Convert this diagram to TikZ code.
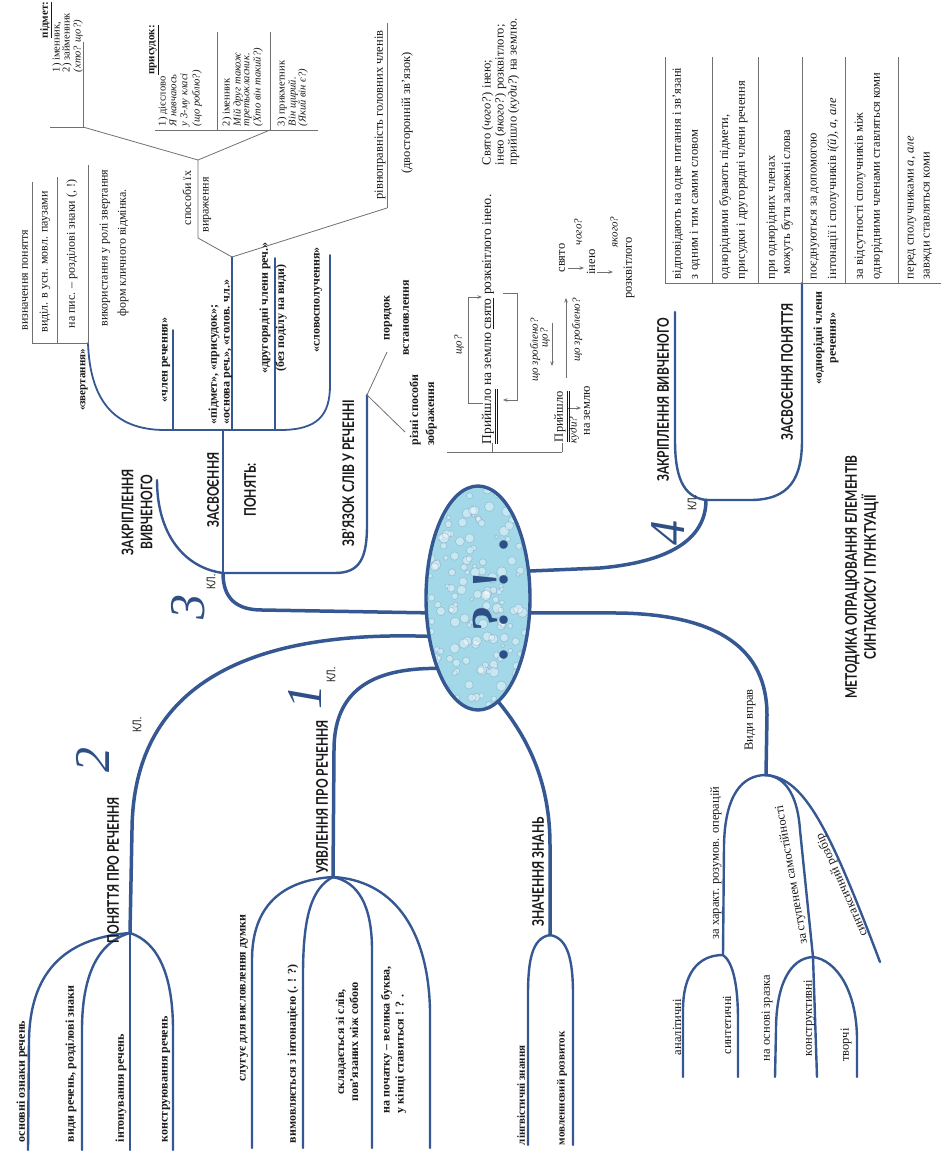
\documentclass[tikz,border=0pt]{standalone}
\usepackage{fontspec}
\setmainfont{Liberation Serif}
\newfontfamily\hdfont[FakeStretch=0.75]{Lato}
\usetikzlibrary{shapes.geometric,arrows.meta}
\definecolor{brc}{HTML}{355892}
\definecolor{thinc}{HTML}{707070}
\definecolor{ovf}{HTML}{A3D8E8}
\definecolor{numc}{HTML}{2E4F86}
\definecolor{txc}{HTML}{1A1A1A}
\tikzset{
  trunk/.style={draw=brc, line width=3.5pt, line cap=round},
  limb/.style={draw=brc, line width=2.4pt, line cap=round},
  twig/.style={draw=brc, line width=1.8pt, line cap=round},
  thinl/.style={draw=thinc, line width=0.8pt},
  tbl/.style={draw=thinc, line width=0.9pt},
  arr/.style={draw=thinc, line width=0.7pt, -{Stealth[length=4.5pt,width=3.5pt]}},
  rt/.style={rotate=90, inner sep=0pt, outer sep=0pt, text=txc},
  hd/.style={rt, font=\hdfont\bfseries\fontsize{16}{19}\selectfont},
  lf/.style={rt, font=\bfseries\fontsize{12}{14}\selectfont},
  lfs/.style={rt, font=\bfseries\fontsize{11}{13}\selectfont},
  tx/.style={rt, font=\fontsize{12.5}{14}\selectfont},
  tm/.style={rt, font=\fontsize{12}{13}\selectfont},
  sm/.style={rt, font=\fontsize{10.5}{12}\selectfont},
  ql/.style={rt, font=\itshape\fontsize{11}{12}\selectfont},
  numeral/.style={inner sep=0pt, outer sep=0pt, text=numc, font=\itshape\fontsize{50}{50}\selectfont},
  kl/.style={rt, font=\hdfont\fontsize{12}{13}\selectfont},
  glyph/.style={rotate=90, inner sep=0pt, anchor=base, text=numc, font=\bfseries\fontsize{52}{52}\selectfont},
}
\begin{document}
\begin{tikzpicture}[x=1pt,y=-1pt]
\fill[white] (0,0) rectangle (941,1151);
\useasboundingbox (0,0) rectangle (941,1151);

% reference shape of the central oval
\node[ellipse, minimum width=104pt, minimum height=224pt, inner sep=0pt] (oval) at (478,598) {};

% ---------------- 3 кл.
\coordinate (j3) at (223,573);
\coordinate (jbar) at (223,430);
\coordinate (zvc) at (88,343);
\draw[trunk] (oval.196) -- (262,610) .. controls (236,610) and (223,598) .. (j3);
\draw[limb] (j3) -- (jbar);
\draw[limb] (j3) .. controls (185,568) and (157,535) .. (157,480);
\draw[limb] (j3) -- (335,573) .. controls (360,573) and (367,558) .. (367,525) -- (367,395) coordinate (jzv);
\draw[twig] (zvc) .. controls (90,398) and (112,430) .. (165,430) -- (280,430) .. controls (318,430) and (330,415) .. (330,385) -- (330,255);
\draw[twig] (173,430) -- (173,330);
\draw[twig] (232,430) -- (232,257) coordinate (jp);
\draw[twig] (275,430) -- (275,258);

% thin grey connectors, upper left
\coordinate (jsp) at (198,160);
\draw[thinl] (jp) -- (198,238) -- (jsp);
\draw[thinl] (jsp) -- (83,127);
\draw[thinl] (jsp) -- (270,130);
\draw[thinl] (jp) -- (387,208);
\draw[thinl] (jzv) -- (387,352);
\draw[thinl] (jzv) -- (405,432);

% boxes upper left
\draw[tbl] (32,182) -- (32,343) -- (88,343) -- (88,165);
\draw[tbl] (57,177) -- (57,343);
\draw[tbl] (50,127) -- (83,127) -- (83,42);
\draw[tbl] (155,130) -- (318,130);
\draw[tbl] (217,32) -- (217,130);
\draw[tbl] (270,32) -- (270,130);
\draw[tbl] (387,23) -- (387,208);

% ---------------- 2 кл.
\draw[trunk] (oval.218) .. controls (240,630) and (133,690) .. (132,830) -- (130,933) coordinate (j2);
\draw[limb] (j2) .. controls (62,938) and (30,975) .. (29,1040) -- (28,1150);
\draw[limb] (j2) .. controls (98,942) and (82,975) .. (82,1030) -- (82,1150);
\draw[limb] (j2) -- (130,1150);
\draw[limb] (j2) .. controls (158,942) and (173,975) .. (173,1030) -- (173,1150);

% ---------------- 1 кл.
\draw[trunk] (oval.240) .. controls (370,668) and (334,692) .. (334,750) -- (333,877) coordinate (j1);
\draw[limb] (j1) .. controls (283,880) and (252,905) .. (252,960) -- (252,1148);
\draw[limb] (j1) .. controls (312,888) and (303,915) .. (303,975) -- (303,1148);
\draw[limb] (j1) .. controls (358,882) and (372,905) .. (372,950) -- (372,1148);
\draw[limb] (j1) .. controls (390,880) and (428,925) .. (430,1010) -- (430,1148);

% ---------------- Значення знань
\draw[trunk] (oval.281) .. controls (530,740) and (550,785) .. (550,845) -- (550,935) coordinate (jz);
\draw[limb] (jz) .. controls (532,938) and (528,960) .. (528,995) -- (528,1145);
\draw[limb] (jz) .. controls (568,938) and (573,960) .. (573,995) -- (573,1145);

% ---------------- Види вправ
\draw[trunk] (oval.344) -- (620,613) .. controls (720,615) and (767,650) .. (767,715) -- (766,775) coordinate (jv);
\draw[limb] (jv) .. controls (742,775) and (725,795) .. (724,845) -- (723,955) coordinate (ja);
\draw[limb] (ja) .. controls (697,955) and (683,975) .. (683,1010) -- (683,1077);
\draw[limb] (ja) .. controls (733,962) and (738,985) .. (738,1020) -- (738,1077);
\draw[limb] (jv) .. controls (788,777) and (798,800) .. (800,830) -- (813,957) coordinate (jb);
\draw[limb] (jb) .. controls (790,958) and (776,985) .. (776,1030) -- (775,1077);
\draw[limb] (jb) -- (817,1077);
\draw[limb] (jb) .. controls (836,960) and (857,990) .. (857,1040) -- (857,1077);
\draw[limb] (jv) .. controls (805,778) and (830,830) .. (880,962);

% ---------------- 4 кл.
\draw[trunk] (oval.28) -- (600,568) .. controls (668,562) and (706,540) .. (706,500) coordinate (j4);
\draw[limb] (j4) .. controls (682,497) and (675,475) .. (675,440) -- (675,312);
\draw[limb] (j4) -- (750,500) .. controls (790,500) and (802,478) .. (802,440) -- (802,283);
\draw[tbl] (665,283) -- (941,283);
\foreach \xx in {665,712,758,802,845,898} \draw[tbl] (\xx,57) -- (\xx,283);

% ---------------- sentence scheme
\draw[arr] (483,403) -- (468,403) -- (468,297) -- (482,297);
\draw[arr] (503,293) -- (517,293) -- (517,400) -- (503,400);
\draw[thinl] (447,452) -- (562,452);
\draw[thinl] (492,452) -- (492,443);
\draw[thinl] (562,452) -- (562,443);
\draw[arr] (552,323) -- (552,366);
\draw[arr] (566,378) -- (566,298);
\draw[arr] (568,268) -- (584,268);
\draw[arr] (597,272) -- (613,272);
\draw[arr] (568,408) -- (581,408);

% ---------------- central oval
\fill[ovf] (oval.center) ellipse [x radius=52, y radius=112];
\begin{scope}
  \clip (oval.center) ellipse [x radius=50, y radius=110];
  \pgfmathsetseed{7}
  \foreach \i in {1,...,170} {
    \pgfmathsetmacro{\bx}{478+50*rand}
    \pgfmathsetmacro{\by}{598+110*rand}
    \pgfmathsetmacro{\bs}{1.8+3.4*rnd}
    \fill[white, opacity=0.4] (\bx,\by) circle [radius=\bs];
    \draw[numc, opacity=0.22, line width=0.6pt] (\bx,\by) circle [radius=\bs];
  }
\end{scope}
\draw[brc, line width=3.4pt] (oval.center) ellipse [x radius=52, y radius=112];
\node[glyph] (g1) at (507,655) {.};
\node[glyph] (g2) at (507,618) {?};
\node[glyph] (g3) at (507,580) {!};
\node[glyph] (g4) at (507,545) {.};

% ---------------- texts upper left
\node[tm] (zv1) at (25,280) {визначення поняття};
\node[tm] (zv2) at (45,262) {виділ. в усн. мовл. паузами};
\node[tm] (zv3) at (72,254) {на пис. – розділові знаки (, !)};
\node[tm] (zv4) at (105,248) {використання у ролі звертання};
\node[tm] (zv5) at (123,253) {форм кличного відмінка.};
\node[lfs] (zvl) at (84,380) {«звертання»};
\node[lf] (chl) at (166,360) {«член речення»};
\node[lf, anchor=west] (pid) at (214,424) {«підмет», «присудок»;};
\node[lf, anchor=west] (osn) at (228,424) {«основа реч.», «голов. чл.»};
\node[lf] (drg) at (265,308) {«другорядні члени реч.»};
\node[lf] (bez) at (281,318) {(без поділу на види)};
\node[lf] (slv) at (318,300) {«словосполучення»};
\node[tm] (sp1) at (187,198) {способи їх};
\node[tm] (sp2) at (207,205) {вираження};

\node[rt, font=\bfseries\fontsize{11}{12}\selectfont] (pdh) at (46,20) {\underline{підмет:}};
\node[sm, anchor=west] (pd1) at (57,72) {1) іменник,};
\node[sm, anchor=west] (pd2) at (67,72) {2) займенник};
\node[sm, anchor=west] (pd3) at (78,72) {\textit{(хто? що?)}};

\node[rt, font=\bfseries\fontsize{11}{12}\selectfont] (prh) at (154,50) {\underline{присудок:}};
\node[sm, anchor=west] (pr1) at (163,126) {1) дієслово};
\node[sm, anchor=west] (pr2) at (173,126) {\textit{Я навчаюсь}};
\node[sm, anchor=west] (pr3) at (185,126) {\textit{у 3-му класі}};
\node[sm, anchor=west] (pr4) at (197,126) {\textit{(що роблю?)}};
\node[sm, anchor=west] (pr5) at (227,126) {2) іменник};
\node[sm, anchor=west] (pr6) at (238,126) {\textit{Мій друг також}};
\node[sm, anchor=west] (pr7) at (248,126) {\textit{третьокласник.}};
\node[sm, anchor=west] (pr8) at (258,126) {\textit{(Хто він такий?)}};
\node[sm, anchor=west] (pr9) at (282,126) {3) прикметник};
\node[sm, anchor=west] (pr10) at (293,126) {\textit{Він щирий.}};
\node[sm, anchor=west] (pr11) at (303,126) {\textit{(Який він є?)}};

\node[tx] (rivn) at (380,115) {рівноправність головних членів};
\node[tx] (dvos) at (407,113) {(двосторонній зв’язок)};

\node[hd] (zs3) at (213,490) {ЗАСВОЄННЯ};
\node[hd] (pn3) at (250,490) {ПОНЯТЬ:};
\node[hd, align=center] (zk3) at (137,512) {ЗАКРІПЛЕННЯ\\ВИВЧЕНОГО};
\node[hd] (zv3h) at (348,473) {ЗВ’ЯЗОК СЛІВ У РЕЧЕННІ};
\node[numeral] (n3) at (188,607) {\rotatebox{90}{3}};
\node[kl] (k3) at (211,582) {КЛ.};

\node[lf] (por) at (388,318) {порядок};
\node[lf] (vst) at (406,318) {встановлення};
\node[lf] (riz) at (415,410) {різні способи};
\node[lf] (zob) at (431,414) {зображення};

% ---------------- sentence scheme texts
\node[rt, anchor=west, font=\fontsize{13.5}{15}\selectfont] (sent) at (490,444) {\underline{\underline{Прийшло}} на землю \underline{свято} розквітлого інею.};
\node[tx, anchor=north west, align=left, font=\fontsize{12.5}{13}\selectfont] (svb) at (482,165) {Свято (\textit{чого?}) інею;\\інею (\textit{якого?}) розквітлого;\\прийшло (\textit{куди?}) на землю.};
\node[ql] (q1) at (459,345) {що?};
\node[ql] (q2) at (535,350) {що зроблено?};
\node[ql] (q3) at (545,338) {що?};
\node[ql] (q4) at (577,330) {що зроблено?};
\node[tx, anchor=west] (pr2w) at (562,442) {\underline{\underline{Прийшло}}};
\node[tx] (sv2) at (562,258) {свято};
\node[ql] (cho) at (578,232) {чого?};
\node[tx] (in2) at (591,262) {інею};
\node[ql] (yak) at (614,232) {якого?};
\node[tx] (roz) at (629,268) {розквітлого};
\node[ql] (kud) at (574,430) {куди?};
\node[tx] (nz) at (587,411) {на землю};

% ---------------- right side
\node[hd] (zak4) at (663,400) {ЗАКРІПЛЕННЯ ВИВЧЕНОГО};
\node[hd] (zas4) at (787,372) {ЗАСВОЄННЯ ПОНЯТТЯ};
\node[lf, align=center] (odn) at (826,338) {«однорідні члени\\речення»};
\node[hd, align=center] (title) at (862,577) {МЕТОДИКА ОПРАЦЮВАННЯ ЕЛЕМЕНТІВ\\СИНТАКСИСУ І ПУНКТУАЦІЇ};
\node[numeral] (n4) at (668,533) {\rotatebox{90}{4}};
\node[kl] (k4) at (692,503) {КЛ.};

\node[tx, anchor=west] (t1a) at (678,279) {відповідають на одне питання і зв’язані};
\node[tx, anchor=west] (t1b) at (695,279) {з одним і тим самим словом};
\node[tx, anchor=west] (t2a) at (725,279) {однорідними бувають підмети,};
\node[tx, anchor=west] (t2b) at (742,279) {присудки і другорядні члени речення};
\node[tx, anchor=west] (t3a) at (772,279) {при однорідних членах};
\node[tx, anchor=west] (t3b) at (787,274) {можуть бути залежні слова};
\node[tx, anchor=west] (t4a) at (815,279) {поєднуються за допомогою};
\node[tx, anchor=west] (t4b) at (833,279) {інтонації і сполучників \textit{і(й), а, але}};
\node[tx, anchor=west] (t5a) at (860,279) {за відсутності сполучників між};
\node[tx, anchor=west] (t5b) at (877,279) {однорідними членами ставляться коми};
\node[tx, anchor=west] (t6a) at (912,279) {перед сполучниками \textit{а, але}};
\node[tx, anchor=west] (t6b) at (928,279) {завжди ставляться коми};

\node[tx] (vv) at (750,720) {Види вправ};
\node[tx] (zh) at (716,863) {за характ. розумов. операцій};
\node[tx] (an) at (677,1027) {аналітичні};
\node[tx] (sy) at (727,1025) {синтетичні};
\node[tx, rotate=10] (zst) at (792,875) {за ступенем самостійності};
\node[tx] (nos) at (767,1018) {на основі зразка};
\node[tx] (kon) at (809,1018) {конструктивні};
\node[tx] (tvo) at (846,1045) {творчі};
\node[tx, rotate=24] (sro) at (842,885) {синтаксичний розбір};

% ---------------- bottom
\node[hd] (zn) at (538,872) {ЗНАЧЕННЯ ЗНАНЬ};
\node[lfs, anchor=west] (lg) at (521,1145) {лінгвістичні знання};
\node[lfs, anchor=west] (mv) at (562,1145) {мовленнєвий розвиток};

\node[hd] (uy) at (322,797) {УЯВЛЕННЯ ПРО РЕЧЕННЯ};
\node[numeral] (n1) at (305,697) {\rotatebox{90}{1}};
\node[kl] (k1) at (331,675) {КЛ.};
\node[lf] (slu) at (244,998) {слугує для висловлення думки};
\node[lf, anchor=west] (vym) at (293,1143) {вимовляється з інтонацією (. ! ?)};
\node[lf, align=center] (skl) at (347,1042) {складається зі слів,\\пов’язаних між собою};
\node[lf, anchor=north west, align=left] (npo) at (381,1113) {на початку – велика буква,\\у кінці ставиться ! ? .};

\node[hd] (ppr) at (113,870) {ПОНЯТТЯ ПРО РЕЧЕННЯ};
\node[numeral] (n2) at (93,760) {\rotatebox{90}{2}};
\node[kl] (k2) at (137,725) {КЛ.};
\node[lf, anchor=west] (osz) at (22,1142) {основні ознаки речень};
\node[lf, anchor=west] (vyd) at (71,1142) {види речень, розділові знаки};
\node[lf, anchor=west] (int) at (121,1142) {інтонування речень};
\node[lf, anchor=west] (kns) at (166,1142) {конструювання речень};
\end{tikzpicture}
\end{document}
